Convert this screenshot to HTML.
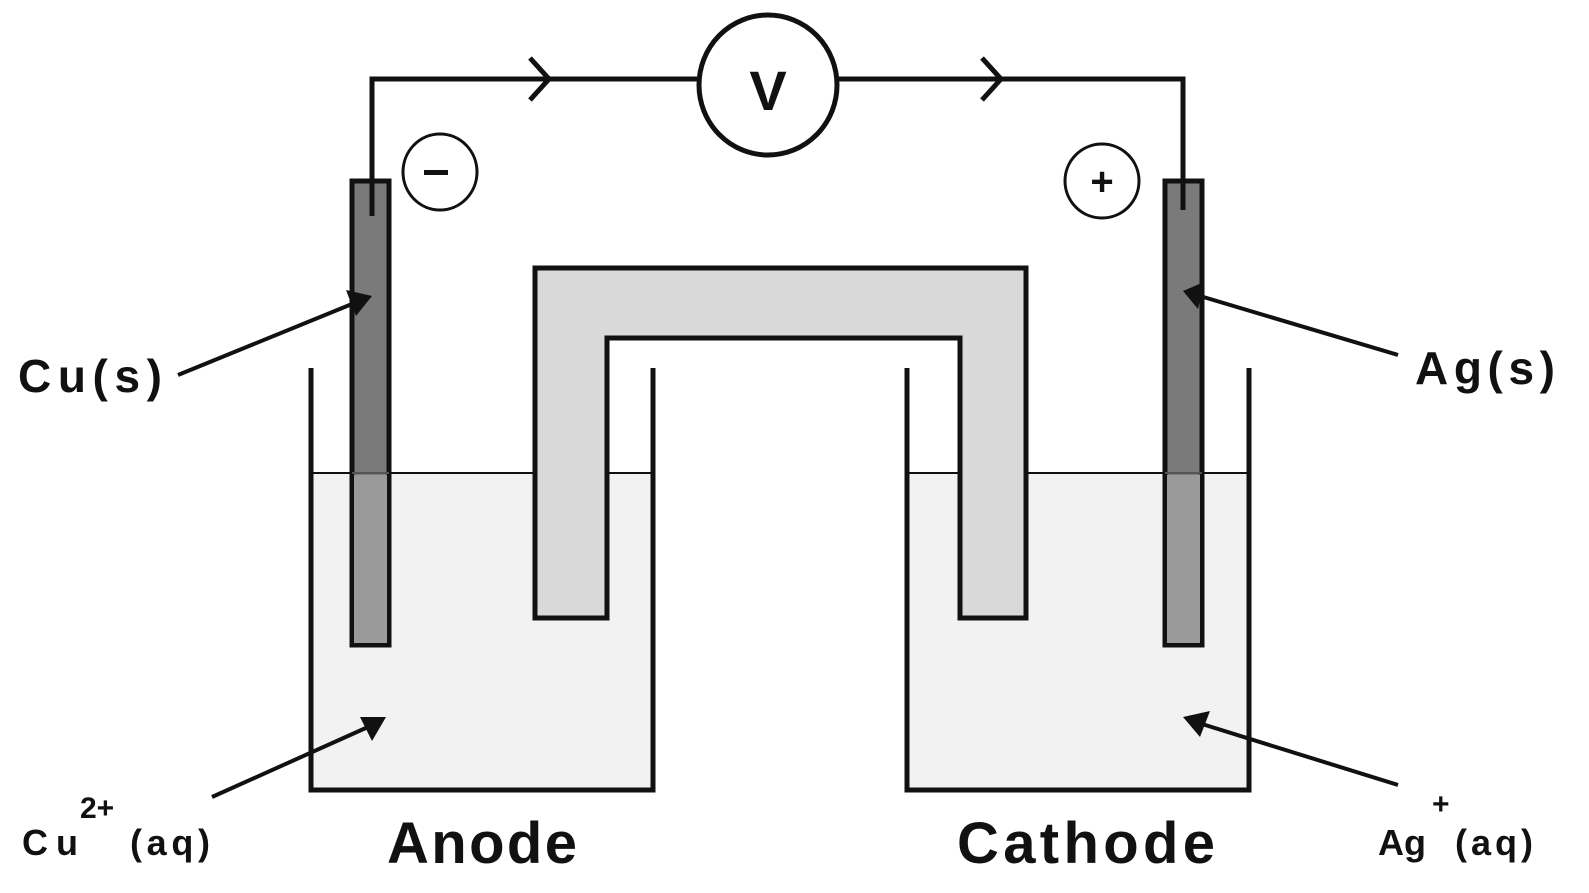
<!DOCTYPE html>
<html><head><style>
html,body{margin:0;padding:0;background:#fff;}
svg{display:block;}
text{font-family:"Liberation Sans",sans-serif;font-weight:bold;fill:#111;}
</style></head><body>
<svg width="1589" height="893" viewBox="0 0 1589 893" xmlns="http://www.w3.org/2000/svg">
<!-- solutions -->
<rect x="311" y="473" width="342" height="317" fill="#f2f2f2"/>
<rect x="907" y="473" width="342" height="317" fill="#f2f2f2"/>
<line x1="311" y1="473" x2="653" y2="473" stroke="#111" stroke-width="2"/>
<line x1="907" y1="473" x2="1249" y2="473" stroke="#111" stroke-width="2"/>
<!-- beakers -->
<polyline points="311,368 311,790 653,790 653,368" fill="none" stroke="#111" stroke-width="5"/>
<polyline points="907,368 907,790 1249,790 1249,368" fill="none" stroke="#111" stroke-width="5"/>
<!-- salt bridge -->
<polygon points="535,268 1026,268 1026,618 960,618 960,338 607,338 607,618 535,618" fill="#d9d9d9" stroke="#111" stroke-width="5"/>
<!-- electrodes -->
<rect x="352" y="181" width="37" height="464" fill="#7a7a7a" stroke="#111" stroke-width="5"/>
<rect x="354" y="475" width="33" height="168" fill="#9a9a9a"/>
<rect x="1165" y="181" width="37" height="464" fill="#7a7a7a" stroke="#111" stroke-width="5"/>
<rect x="1167" y="475" width="33" height="168" fill="#9a9a9a"/>
<line x1="352" y1="473" x2="389" y2="473" stroke="#555" stroke-width="2"/>
<line x1="1165" y1="473" x2="1202" y2="473" stroke="#555" stroke-width="2"/>
<!-- wires -->
<polyline points="372,216 372,79 697,79" fill="none" stroke="#111" stroke-width="5"/>
<polyline points="838,79 1183,79 1183,210" fill="none" stroke="#111" stroke-width="5"/>
<polyline points="530,58 549,79 530,100" fill="none" stroke="#111" stroke-width="5"/>
<polyline points="982,58 1001,79 982,100" fill="none" stroke="#111" stroke-width="5"/>
<!-- voltmeter -->
<ellipse cx="768" cy="85" rx="69" ry="70" fill="#fff" stroke="#111" stroke-width="5"/>
<text x="768" y="110" font-size="56" text-anchor="middle">V</text>
<!-- signs -->
<ellipse cx="440" cy="172" rx="37" ry="38" fill="#fff" stroke="#111" stroke-width="3"/>
<rect x="424" y="170" width="24" height="5" fill="#111"/>
<ellipse cx="1102" cy="181" rx="37" ry="37" fill="#fff" stroke="#111" stroke-width="3"/>
<text x="1102" y="195" font-size="40" text-anchor="middle">+</text>
<!-- pointer arrows -->
<g stroke="#111" stroke-width="4">
<line x1="178" y1="375" x2="352" y2="304"/>
<line x1="1398" y1="355" x2="1200" y2="296"/>
<line x1="212" y1="797" x2="368" y2="727"/>
<line x1="1398" y1="785" x2="1202" y2="724"/>
</g>
<polygon points="372,296 346,290 356,316" fill="#111"/>
<polygon points="1183,291 1204,282 1198,309" fill="#111"/>
<polygon points="386,717 360,717 372,741" fill="#111"/>
<polygon points="1183,717 1210,711 1200,737" fill="#111"/>
<!-- labels -->
<text x="18" y="392" font-size="46" textLength="144" lengthAdjust="spacing">Cu(s)</text>
<text x="1415" y="384" font-size="46" textLength="140" lengthAdjust="spacing">Ag(s)</text>
<text x="22" y="855" font-size="36" textLength="56" lengthAdjust="spacing">Cu</text>
<text x="80" y="818" font-size="30">2+</text>
<text x="130" y="855" font-size="36" textLength="80" lengthAdjust="spacing">(aq)</text>
<text x="1378" y="855" font-size="36" textLength="48" lengthAdjust="spacing">Ag</text>
<text x="1432" y="814" font-size="30">+</text>
<text x="1455" y="855" font-size="36" textLength="78" lengthAdjust="spacing">(aq)</text>
<text x="387" y="863" font-size="58" textLength="190" lengthAdjust="spacing">Anode</text>
<text x="957" y="863" font-size="58" textLength="258" lengthAdjust="spacing">Cathode</text>
</svg>
</body></html>
